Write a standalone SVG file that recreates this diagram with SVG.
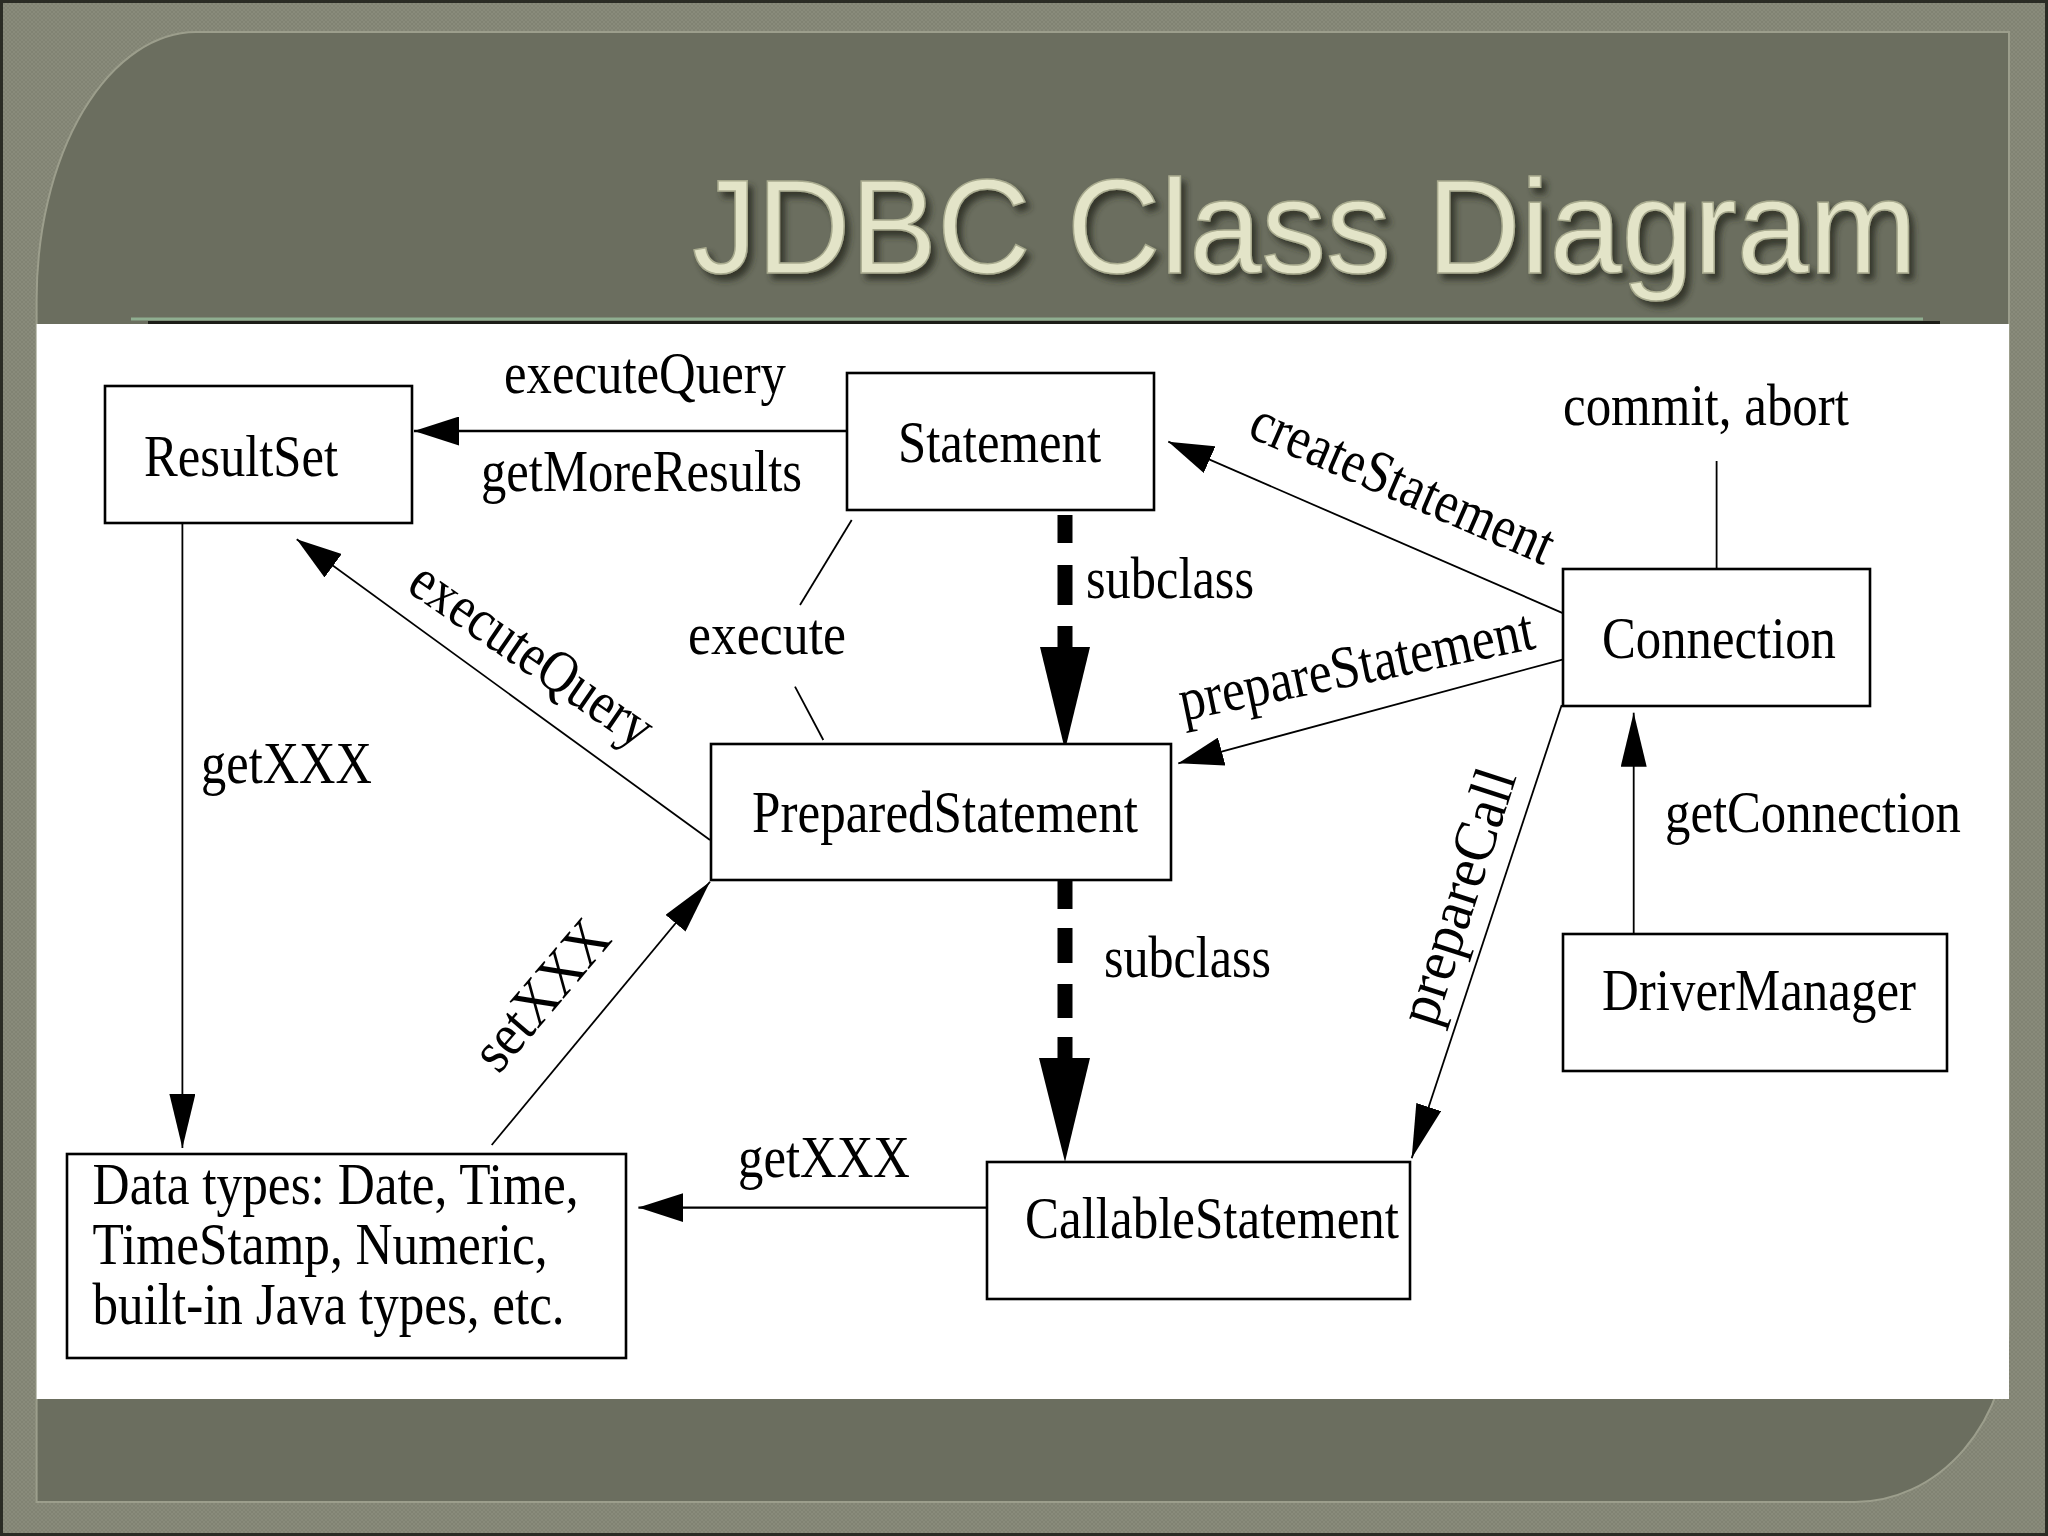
<svg xmlns="http://www.w3.org/2000/svg" width="2048" height="1536" viewBox="0 0 2048 1536">
<style>
.box{fill:#fff;stroke:#000;stroke-width:2.6}
.lbl{font-family:"Liberation Serif","Times New Roman",serif;font-size:60px;fill:#000}
.conn{stroke:#000;stroke-width:1.8;fill:none}
.hconn{stroke:#000;stroke-width:2.4;fill:none}
.thick{stroke:#000;stroke-width:15;fill:none}
.title{font-family:"Liberation Sans",Arial,sans-serif;font-size:133px}
</style>
<defs>
<pattern id="tex" width="4" height="4" patternUnits="userSpaceOnUse">
<rect width="4" height="4" fill="#898b7b"/>
<path d="M0,0 L4,4 M4,0 L0,4" stroke="#7f8171" stroke-width="0.8"/>
</pattern>
<marker id="wide" viewBox="0 0 45 29" refX="45" refY="14.5" markerWidth="45" markerHeight="29" markerUnits="userSpaceOnUse" orient="auto">
<path d="M0,0 L45,14.5 L0,29 Z" fill="#000"/>
</marker>
<marker id="narrow" viewBox="0 0 54 26" refX="54" refY="13" markerWidth="54" markerHeight="26" markerUnits="userSpaceOnUse" orient="auto">
<path d="M0,0 L54,13 L0,26 Z" fill="#000"/>
</marker>
<filter id="shadow" x="-5%" y="-20%" width="112%" height="150%">
<feGaussianBlur in="SourceAlpha" stdDeviation="3" result="b"/>
<feOffset in="b" dx="5" dy="6" result="o"/>
<feFlood flood-color="#2b2d23" flood-opacity="0.85"/>
<feComposite in2="o" operator="in" result="s"/>
<feMerge><feMergeNode in="s"/><feMergeNode in="SourceGraphic"/></feMerge>
</filter>
</defs>

<!-- background frame -->
<rect x="0" y="0" width="2048" height="1536" fill="url(#tex)"/>
<rect x="1.5" y="1.5" width="2045" height="1533" fill="none" stroke="#2a2b24" stroke-width="3"/>
<path d="M36.6,300 A160,268 0 0 1 196,32 L2009,32 L2009,1323 A154,179 0 0 1 1855,1502 L36.6,1502 Z" fill="#6b6e5f" stroke="#9c9e8c" stroke-width="2"/>
<rect x="36.6" y="324" width="1972.4" height="1075" fill="#ffffff"/>
<line x1="131" y1="319" x2="1923" y2="319" stroke="#8fae90" stroke-width="3"/>
<line x1="148" y1="322.5" x2="1940" y2="322.5" stroke="#1c1d17" stroke-width="3"/>

<!-- title -->
<g id="title">
<text class="title" x="692" y="273" textLength="1225" lengthAdjust="spacingAndGlyphs" fill="#e3e4c8" stroke="#a9ab8f" stroke-width="1.5" filter="url(#shadow)">JDBC Class Diagram</text>
</g>

<!-- connectors -->
<g id="connectors">
<line class="hconn" x1="847" y1="431" x2="414" y2="431" marker-end="url(#wide)"/>
<line class="conn" x1="1563.3" y1="613.3" x2="1168.3" y2="441.7" marker-end="url(#wide)"/>
<line class="conn" x1="1563.3" y1="659.3" x2="1178.3" y2="763.3" marker-end="url(#wide)"/>
<line class="conn" x1="1561.7" y1="705" x2="1411.7" y2="1158.3" marker-end="url(#narrow)"/>
<line class="conn" x1="1633.7" y1="934" x2="1633.7" y2="712.7" marker-end="url(#narrow)"/>
<line class="conn" x1="1716.6" y1="461" x2="1716.6" y2="569"/>
<line class="conn" x1="182.4" y1="523" x2="182.4" y2="1148" marker-end="url(#narrow)"/>
<line class="conn" x1="710" y1="840" x2="296.7" y2="539.3" marker-end="url(#wide)"/>
<line class="conn" x1="491.7" y1="1145" x2="710" y2="881.7" marker-end="url(#narrow)"/>
<line class="hconn" x1="987" y1="1207.6" x2="638.4" y2="1207.6" marker-end="url(#wide)"/>
<line class="conn" x1="851.7" y1="520" x2="800" y2="605"/>
<line class="conn" x1="795" y1="686.7" x2="823.3" y2="740"/>
<path class="thick" d="M1065,515 V543 M1065,565 V605 M1065,626 V650"/>
<polygon points="1040,647 1090,647 1065,750" fill="#000"/>
<path class="thick" d="M1065,880 V909 M1065,928 V963 M1065,984 V1018 M1065,1037 V1061"/>
<polygon points="1039,1058 1090,1058 1065,1162" fill="#000"/>
</g>

<!-- nodes -->
<g id="node-resultset">
<rect class="box" x="105" y="386" width="307" height="137"/>
<text class="lbl" x="144" y="476" textLength="194" lengthAdjust="spacingAndGlyphs">ResultSet</text>
</g>
<g id="node-statement">
<rect class="box" x="847" y="373" width="307" height="137"/>
<text class="lbl" x="898" y="462" textLength="203" lengthAdjust="spacingAndGlyphs">Statement</text>
</g>
<g id="node-connection">
<rect class="box" x="1563" y="569" width="307" height="137"/>
<text class="lbl" x="1602" y="658" textLength="234" lengthAdjust="spacingAndGlyphs">Connection</text>
</g>
<g id="node-preparedstatement">
<rect class="box" x="711" y="744" width="460" height="136"/>
<text class="lbl" x="752" y="832" textLength="386" lengthAdjust="spacingAndGlyphs">PreparedStatement</text>
</g>
<g id="node-drivermanager">
<rect class="box" x="1563" y="934" width="384" height="137"/>
<text class="lbl" x="1602" y="1010" textLength="314" lengthAdjust="spacingAndGlyphs">DriverManager</text>
</g>
<g id="node-callablestatement">
<rect class="box" x="987" y="1162" width="423" height="137"/>
<text class="lbl" x="1025" y="1238" textLength="374" lengthAdjust="spacingAndGlyphs">CallableStatement</text>
</g>
<g id="node-datatypes">
<rect class="box" x="67" y="1154" width="559" height="204"/>
<text class="lbl" x="92.6" y="1203.7" textLength="486" lengthAdjust="spacingAndGlyphs">Data types: Date, Time,</text>
<text class="lbl" x="92.6" y="1263.8" textLength="455" lengthAdjust="spacingAndGlyphs">TimeStamp, Numeric,</text>
<text class="lbl" x="92.6" y="1324.3" textLength="472" lengthAdjust="spacingAndGlyphs">built-in Java types, etc.</text>
</g>

<!-- connector labels -->
<g id="labels">
<text class="lbl" x="504" y="393" textLength="282" lengthAdjust="spacingAndGlyphs">executeQuery</text>
<text class="lbl" x="481" y="491" textLength="321" lengthAdjust="spacingAndGlyphs">getMoreResults</text>
<text class="lbl" x="1086" y="598" textLength="168" lengthAdjust="spacingAndGlyphs">subclass</text>
<text class="lbl" x="688" y="654" textLength="158" lengthAdjust="spacingAndGlyphs">execute</text>
<text class="lbl" x="201" y="783" textLength="171" lengthAdjust="spacingAndGlyphs">getXXX</text>
<text class="lbl" x="1563" y="425" textLength="286" lengthAdjust="spacingAndGlyphs">commit, abort</text>
<text class="lbl" x="1665" y="832" textLength="296" lengthAdjust="spacingAndGlyphs">getConnection</text>
<text class="lbl" x="1104" y="977" textLength="167" lengthAdjust="spacingAndGlyphs">subclass</text>
<text class="lbl" x="738" y="1177" textLength="172" lengthAdjust="spacingAndGlyphs">getXXX</text>
<text class="lbl" transform="translate(405,590) rotate(34.5)" textLength="282" lengthAdjust="spacingAndGlyphs">executeQuery</text>
<text class="lbl" transform="translate(1246,436) rotate(23.5)" textLength="325" lengthAdjust="spacingAndGlyphs">createStatement</text>
<text class="lbl" transform="translate(1183.3,720.7) rotate(-11.6)" textLength="361" lengthAdjust="spacingAndGlyphs">prepareStatement</text>
<text class="lbl" transform="translate(1435,1028.3) rotate(-72)" textLength="265" lengthAdjust="spacingAndGlyphs">prepareCall</text>
<text class="lbl" transform="translate(498.5,1075) rotate(-49.5)" textLength="177" lengthAdjust="spacingAndGlyphs">setXXX</text>
</g>
</svg>
